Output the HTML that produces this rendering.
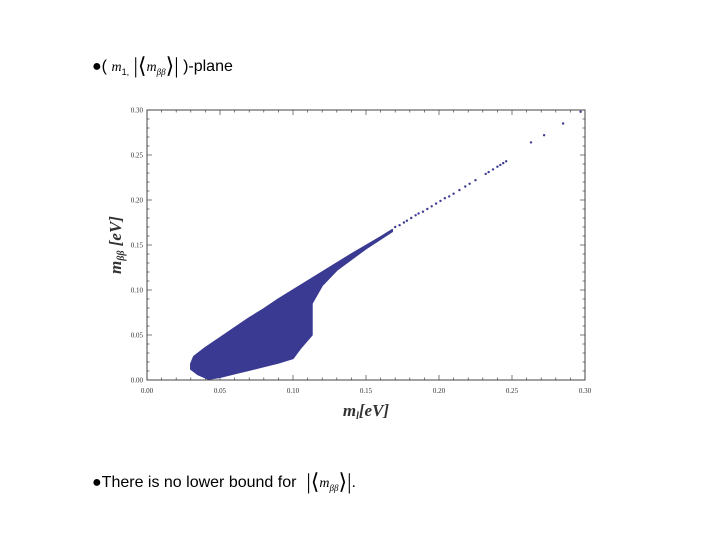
<!DOCTYPE html>
<html><head><meta charset="utf-8"><style>
body{margin:0;width:720px;height:540px;background:#fff;overflow:hidden;font-family:"Liberation Sans",sans-serif}
.t{position:absolute;font-size:16px;color:#000;white-space:nowrap}
.m{font-family:"Liberation Serif",serif;font-style:italic}
</style></head><body>
<div class="t" style="left:92px;top:53px">●( <span class="m" style="font-size:14px">m</span><sub style="font-size:9px">1,</sub> <span style="font-family:'Liberation Serif',serif;font-size:22px;vertical-align:-2px">|⟨</span><span class="m" style="font-size:14px">m<sub style="font-size:9px">ββ</sub></span><span style="font-family:'Liberation Serif',serif;font-size:22px;vertical-align:-2px">⟩|</span> )-plane</div>
<div class="t" style="left:92px;top:469px">●There is no lower bound for <span style="font-family:'Liberation Serif',serif;font-size:22px;vertical-align:-2px">&nbsp;|⟨</span><span class="m" style="font-size:14px">m<sub style="font-size:9px">ββ</sub></span><span style="font-family:'Liberation Serif',serif;font-size:22px;vertical-align:-2px">⟩|</span>.</div>
<svg id="chart" width="720" height="540" style="position:absolute;left:0;top:0"></svg>
<script>
const xTicks=[0,0.05,0.10,0.15,0.20,0.25,0.30];
const xTickLabels=["0.00","0.05","0.10","0.15","0.20","0.25","0.30"];
const yTicks=[0,0.05,0.10,0.15,0.20,0.25,0.30];
const yTickLabels=["0.00","0.05","0.10","0.15","0.20","0.25","0.30"];
const cloudUpperX=[0.030,0.032,0.040,0.050,0.060,0.070,0.080,0.090,0.100,0.120,0.140,0.160,0.168];
const cloudUpperY=[0.018,0.026,0.036,0.047,0.058,0.069,0.079,0.090,0.100,0.120,0.140,0.159,0.167];
const cloudLowerX=[0.168,0.150,0.130,0.120,0.113,0.113,0.105,0.100,0.090,0.080,0.070,0.060,0.050,0.042,0.035,0.030];
const cloudLowerY=[0.165,0.146,0.122,0.105,0.085,0.050,0.035,0.024,0.019,0.015,0.011,0.007,0.003,0.001,0.006,0.012];
const tailX=[0.170,0.173,0.176,0.178,0.181,0.184,0.186,0.189,0.192,0.195,0.198,0.201,0.204,0.207,0.210,0.214,0.218,0.221,0.225,0.232,0.234,0.237,0.240,0.242,0.244,0.246,0.263,0.272,0.285,0.297];
const tailY=[0.170,0.172,0.175,0.177,0.180,0.183,0.185,0.187,0.190,0.193,0.196,0.199,0.202,0.204,0.207,0.211,0.215,0.218,0.222,0.229,0.231,0.234,0.237,0.239,0.241,0.243,0.264,0.272,0.285,0.298];
const X0=147,X1=585,Y0=380,Y1=110;
const sx=v=>X0+(v-0)/0.30*(X1-X0);
const sy=v=>Y0-(v-0)/0.30*(Y0-Y1);
const svg=document.getElementById('chart');
const NS='http://www.w3.org/2000/svg';
function mk(tag,at){const e=document.createElementNS(NS,tag);for(const k in at)e.setAttribute(k,at[k]);svg.appendChild(e);return e;}
const frame=mk('rect',{x:X0,y:Y1,width:X1-X0,height:Y0-Y1,fill:'none',stroke:'#444','stroke-width':1});


for(let i=0;i<=30;i++){const v=i*0.01,len=(i%5==0)?5:2.5;
 [[sx(v),Y0,sx(v),Y0-len],[sx(v),Y1,sx(v),Y1+len]].forEach(c=>{const l=mk('line',{x1:c[0],y1:c[1],x2:c[2],y2:c[3],stroke:'#444','stroke-width':0.7});});
 [[X0,sy(v),X0+len,sy(v)],[X1,sy(v),X1-len,sy(v)]].forEach(c=>{const l=mk('line',{x1:c[0],y1:c[1],x2:c[2],y2:c[3],stroke:'#444','stroke-width':0.7});});
}
xTicks.forEach((v,i)=>{const t=mk('text',{x:sx(v),y:Y0+13,'text-anchor':'middle','font-size':7,'font-family':'Liberation Serif,serif',fill:'#333'});t.textContent=xTickLabels[i];});
yTicks.forEach((v,i)=>{const t=mk('text',{x:X0-4,y:sy(v)+2.5,'text-anchor':'end','font-size':7,'font-family':'Liberation Serif,serif',fill:'#333'});t.textContent=yTickLabels[i];});
let pts=[];cloudUpperX.forEach((v,i)=>pts.push(sx(v)+','+sy(cloudUpperY[i])));cloudLowerX.forEach((v,i)=>pts.push(sx(v)+','+sy(cloudLowerY[i])));
const cl=mk('polygon',{points:pts.join(' '),fill:'#3a3a92',stroke:'#3a3a92','stroke-width':1.5,'stroke-linejoin':'round'});


tailX.forEach((v,i)=>{const c=mk('circle',{cx:sx(v),cy:sy(tailY[i]),r:1.2,fill:'#3a3a92'});});
const xl=mk('text',{x:366,y:416,'text-anchor':'middle','font-size':17,'font-family':'Liberation Serif,serif','font-style':'italic','font-weight':'bold',fill:'#333'});
xl.innerHTML='m<tspan font-size="10" dy="3">l</tspan><tspan dy="-3">[eV]</tspan>';


const yl=mk('text',{x:0,y:0,'text-anchor':'middle','font-size':17,'font-family':'Liberation Serif,serif','font-style':'italic','font-weight':'bold',fill:'#333',transform:'translate(121,245) rotate(-90)'});
yl.innerHTML='m<tspan font-size="10" dy="3">ββ</tspan><tspan dy="-3"> [eV]</tspan>';


</script>
</body></html>
